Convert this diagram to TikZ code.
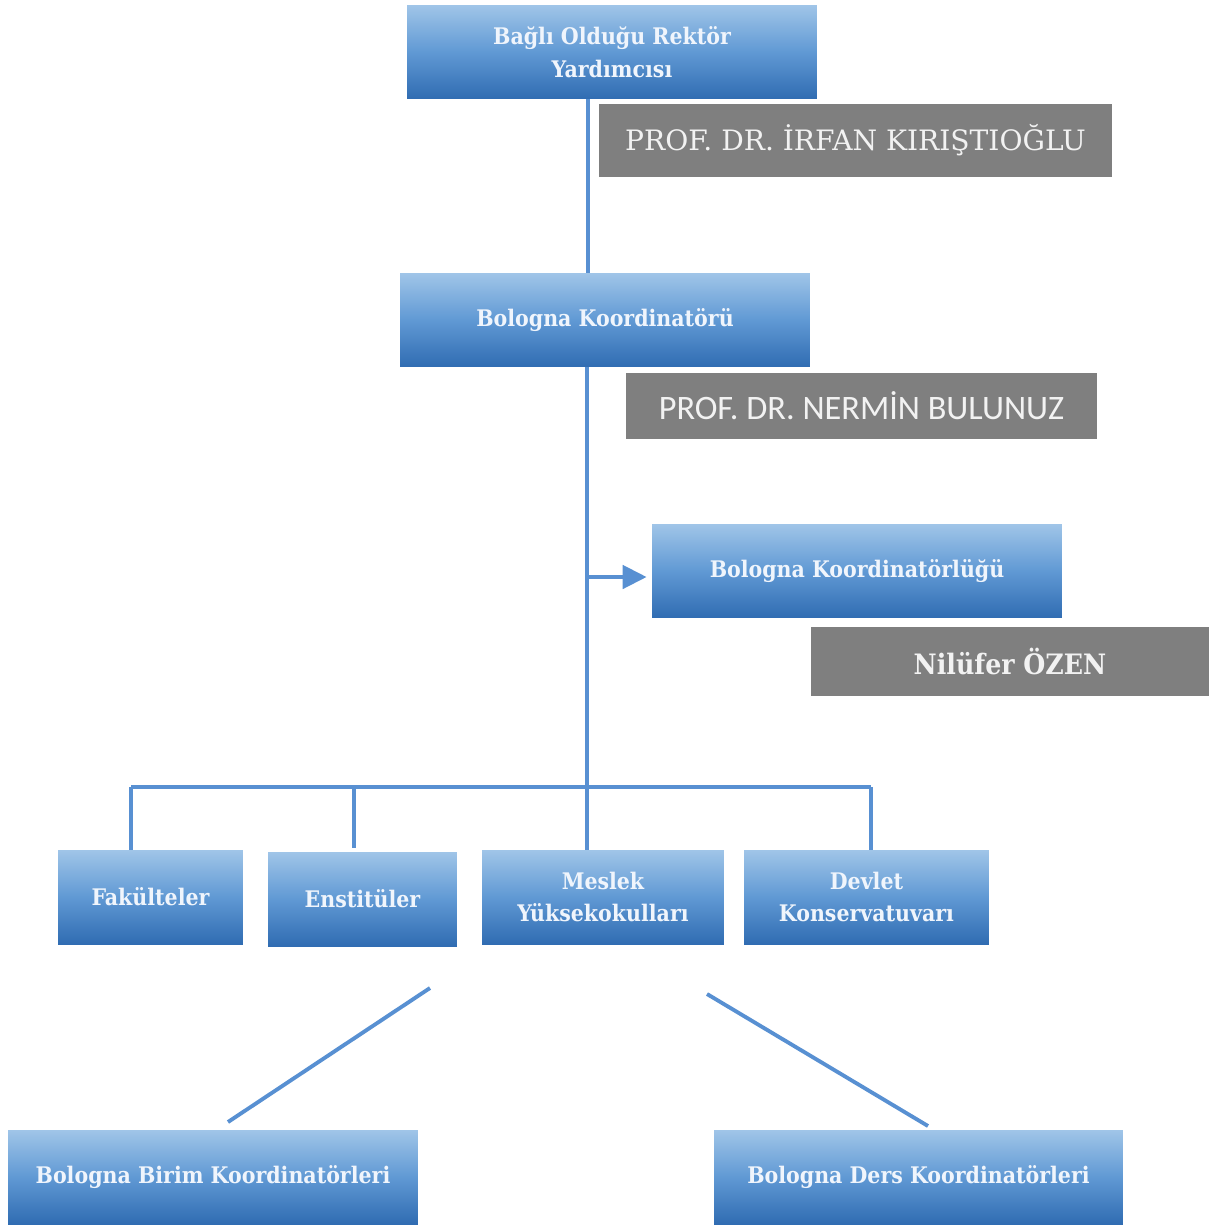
\documentclass[tikz,border=0pt]{standalone}
\usepackage{fontspec}
\setmainfont{DejaVu Serif Condensed}
\newfontfamily\grayserif{DejaVu Serif}
\newfontfamily\grayserifc{DejaVu Serif Condensed}
\newfontfamily\graysans{Carlito}
\usetikzlibrary{arrows.meta,shadings}
\definecolor{btop}{RGB}{160,197,232}
\definecolor{bmid}{RGB}{96,153,212}
\definecolor{bbot}{RGB}{48,108,178}
\definecolor{conncol}{RGB}{88,144,210}
\definecolor{grayfill}{RGB}{127,127,127}
\definecolor{graytext}{RGB}{242,242,242}
\definecolor{boxtext}{RGB}{240,245,252}
\tikzset{
  bluebox/.style={rectangle, inner sep=0pt, top color=btop, bottom color=bbot, middle color=bmid,
    text=boxtext, font=\bfseries\fontsize{13}{18.5}\selectfont, align=center, minimum height=1.88cm},
  graybox/.style={rectangle, inner sep=0pt, fill=grayfill, text=graytext, align=center},
  conn/.style={draw=conncol, line width=2.6pt},
  diag/.style={draw=conncol, line width=2.2pt},
}
\begin{document}
\begin{tikzpicture}[x=0.02cm,y=-0.02cm]
\useasboundingbox (0,0) rectangle (1211,1227);
% boxes
\node[bluebox, minimum width=8.2cm] (top) at (612,52) {Bağlı Olduğu Rektör\\Yardımcısı};
\node[graybox, minimum width=10.26cm, minimum height=1.46cm, font=\grayserif\fontsize{16}{18}\selectfont] (g1) at (855.5,140.5) {PROF. DR. İRFAN KIRIŞTIOĞLU};
\node[bluebox, minimum width=8.2cm] (koord) at (605,320) {Bologna Koordinatörü};
\node[graybox, minimum width=9.42cm, minimum height=1.32cm, font=\graysans\fontsize{19.5}{21}\selectfont] (g2) at (861.5,406) {PROF. DR. NERMİN BULUNUZ};
\node[bluebox, minimum width=8.2cm] (koordl) at (857,571) {Bologna Koordinatörlüğü};
\node[graybox, minimum width=7.96cm, minimum height=1.38cm, font=\grayserifc\bfseries\fontsize{16}{18}\selectfont] (g3) at (1010,661.5) {Nilüfer ÖZEN};
\node[bluebox, minimum width=3.7cm] (fak) at (150.5,897) {Fakülteler};
\node[bluebox, minimum width=3.78cm] (enst) at (362.5,899) {Enstitüler};
\node[bluebox, minimum width=4.84cm] (myo) at (603,897) {Meslek\\Yüksekokulları};
\node[bluebox, minimum width=4.9cm] (dk) at (866.5,897) {Devlet\\Konservatuvarı};
\node[bluebox, minimum width=8.2cm] (birim) at (213,1177) {Bologna Birim Koordinatörleri};
\node[bluebox, minimum width=8.18cm] (ders) at (918.5,1177) {Bologna Ders Koordinatörleri};
% coordinates
\coordinate (spine) at (588,0);
\coordinate (arr) at (587,577);
\coordinate (d1) at (131,787);
\coordinate (d2) at (354,787);
\coordinate (d3) at (587,787);
\coordinate (d4) at (871,787);
\coordinate (e1) at (430,988);
\coordinate (e2) at (228,1122);
\coordinate (f1) at (707,994);
\coordinate (f2) at (928,1126);
% connectors
\draw[conn] (top.south -| spine) -- (koord.north -| spine);
\draw[conn] (koord.south -| d3) -- (d3);
\draw[conn, -{Triangle[length=0.48cm,width=0.46cm]}] (arr) -- ([xshift=-0.1cm]arr -| koordl.west);
\draw[conn] (d1) -- (d4);
\draw[conn] (d1) -- (d1 |- fak.north);
\draw[conn] (d2) -- ([yshift=0.08cm]d2 |- enst.north);
\draw[conn] (d3) -- (d3 |- myo.north);
\draw[conn] (d4) -- (d4 |- dk.north);
\draw[diag] (e1) -- (e2);
\draw[diag] (f1) -- (f2);
\end{tikzpicture}
\end{document}
